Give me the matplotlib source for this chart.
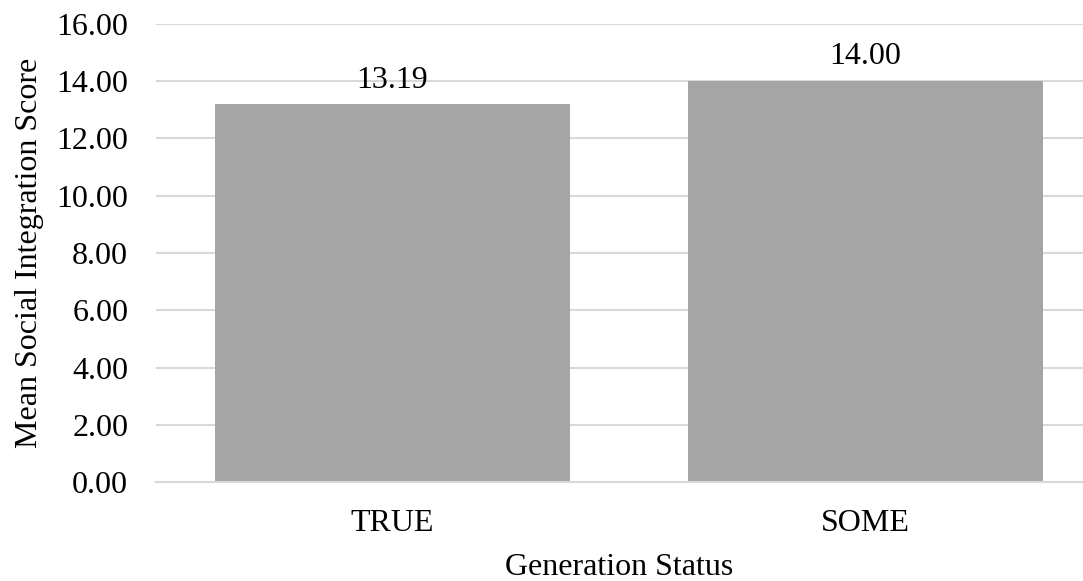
import matplotlib
matplotlib.use("Agg")
import matplotlib.pyplot as plt

categories = ["TRUE", "SOME"]
mean_scores = [13.19, 14.00]
y_ticks = [0, 2, 4, 6, 8, 10, 12, 14, 16]

plt.rcParams["font.family"] = ["Liberation Serif", "DejaVu Serif"]

fig = plt.figure(figsize=(10.83, 5.81), dpi=100)
ax = fig.add_axes([0.144, 0.170, 0.856, 0.789])

x = list(range(len(categories)))
bars = ax.bar(x, mean_scores, width=0.75, color="#a5a5a5", zorder=2)

for xi, v in zip(x, mean_scores):
    ax.annotate(f"{v:.2f}", (xi, v), xytext=(0, 7), textcoords="offset points",
                ha="center", va="bottom", fontsize=23, color="#000000")

ax.set_xlim(-0.5, 1.46)
ax.set_ylim(0, 16)
ax.set_yticks(y_ticks)
ax.set_yticklabels([f"{t:.2f}" for t in y_ticks])
ax.set_xticks(x)
ax.set_xticklabels(categories)

ax.yaxis.grid(True, color="#d9d9d9", linewidth=1.5, zorder=0)
ax.set_axisbelow(True)
for side in ["top", "right", "left"]:
    ax.spines[side].set_visible(False)
ax.spines["bottom"].set_color("#d9d9d9")
ax.spines["bottom"].set_linewidth(1.5)

ax.tick_params(axis="y", length=0, pad=20, labelsize=23)
ax.tick_params(axis="x", length=0, pad=19, labelsize=23)

ax.set_xlabel("Generation Status", fontsize=23, labelpad=11)
ax.set_ylabel("Mean Social Integration Score", fontsize=23, labelpad=9)

fig.savefig("out.png", dpi=100)
